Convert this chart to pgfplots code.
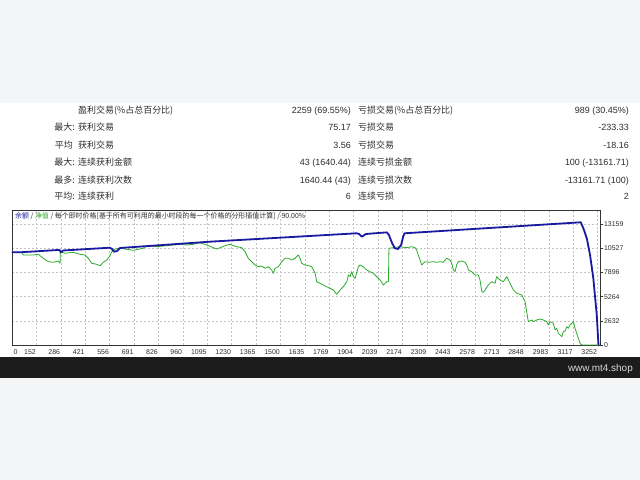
\documentclass[border=0pt]{standalone}
\usepackage{pgfplots}
\pgfplotsset{compat=1.18}
\usepackage{fontspec}
\setmainfont{Liberation Sans}
\newfontfamily\cjk{Noto Sans CJK SC}
\definecolor{bggray}{RGB}{244,245,247}
\definecolor{barblack}{RGB}{28,28,28}
\definecolor{txt}{RGB}{45,45,45}
\definecolor{bal}{RGB}{26,26,160}
\definecolor{eq}{RGB}{44,170,44}
\definecolor{gridc}{RGB}{195,195,195}
\newcommand{\statrow}[6]{%
  \node[anchor=base east,inner sep=0pt,text=txt,font=\fontsize{9}{11}\selectfont] at (75,#1-3.3) {\cjk #2};
  \node[anchor=base west,inner sep=0pt,text=txt,font=\fontsize{9}{11}\selectfont] at (78,#1-3.3) {\cjk #3};
  \node[anchor=base east,inner sep=0pt,text=txt,font=\fontsize{9}{11}\selectfont] at (351,#1-3.3) {#4};
  \node[anchor=base west,inner sep=0pt,text=txt,font=\fontsize{9}{11}\selectfont] at (358,#1-3.3) {\cjk #5};
  \node[anchor=base east,inner sep=0pt,text=txt,font=\fontsize{9}{11}\selectfont] at (629,#1-3.3) {#6};
}
\begin{document}
\begin{tikzpicture}[x=1bp,y=1bp]
\fill[bggray] (0,0) rectangle (640,480);
\fill[white] (0,123) rectangle (640,377);
\fill[barblack] (0,102) rectangle (640,123);
\node[anchor=base east,inner sep=0pt,text=white!85!black,font=\fontsize{10}{12}\selectfont] at (633,108.8) {www.mt4.shop};

\statrow{370}{}{盈利交易(\%占总百分比)}{2259 (69.55\%)}{亏损交易(\%占总百分比)}{989 (30.45\%)}
\statrow{352.3}{最大:}{获利交易}{75.17}{亏损交易}{-233.33}
\node[anchor=base east,inner sep=0pt,text=txt,font=\fontsize{9}{11}\selectfont] at (73,335-3.3) {\cjk 平均};
\statrow{335}{}{获利交易}{3.56}{亏损交易}{-18.16}
\statrow{317.3}{最大:}{连续获利金额}{43 (1640.44)}{连续亏损金额}{100 (-13161.71)}
\statrow{300}{最多:}{连续获利次数}{1640.44 (43)}{连续亏损次数}{-13161.71 (100)}
\statrow{283.3}{平均:}{连续获利}{6}{连续亏损}{2}

\begin{axis}[
  at={(12bp,134.7bp)}, anchor=south west,
  scale only axis, width=588bp, height=135.3bp,
  xmin=52.5, xmax=3301, ymin=0, ymax=14653,
  scaled y ticks=false, scaled x ticks=false,
  axis line style={draw=black!80, line width=0.6bp},
  xtick={188,322,457,592,727,862,996,1131,1266,1401,1536,1671,1805,1940,2075,2210,2345,2479,2614,2749,2884,3019,3153,3288},
  xticklabels={152,286,421,556,691,826,960,1095,1230,1365,1500,1635,1769,1904,2039,2174,2309,2443,2578,2713,2848,2983,3117,3252},
  xtick style={draw=none},
  xticklabel style={anchor=north east, inner sep=0pt, yshift=-1.5bp, xshift=-0.5bp},
  extra x ticks={52.5}, extra x tick labels={0},
  extra x tick style={grid=none, xticklabel style={anchor=north west, xshift=2bp}},
  ytick={0,2632,5264,7896,10527,13159},
  yticklabels={0,2632,5264,7896,10527,13159},
  ytick pos=right, yticklabel pos=right, tick align=outside, major tick length=3bp,
  ytick style={draw=black!80, line width=0.5bp},
  yticklabel style={anchor=west, inner sep=0pt, xshift=0.8bp},
  tick label style={font=\fontsize{7}{8}\selectfont, text=txt},
  grid=major, major grid style={gridc, dash pattern=on 2bp off 2bp, line width=0.5bp},
]
\addplot[eq, line width=0.8bp, line join=round] coordinates {
(52,10072)(106,10072)(115,9779)(169,9779)(198,9855)(225,9422)(253,9054)(281,8989)(308,9130)(318,8881)(320,10137)(345,9964)(391,10072)(428,9855)(456,9779)(474,9422)(493,8881)(520,8772)(539,8621)(557,8989)(576,9238)(594,9704)(603,10137)(622,10429)(649,10505)(723,10289)(778,10505)(797,10787)(852,10678)(907,10787)(944,10862)(981,10938)(1018,10862)(1054,10938)(1091,11112)(1128,10862)(1165,10570)(1183,10429)(1202,10570)(1229,10787)(1257,10938)(1275,10787)(1294,10678)(1322,10570)(1340,10137)(1358,9422)(1377,9054)(1395,8696)(1413,8512)(1432,8588)(1450,8339)(1469,8512)(1487,8155)(1496,7798)(1506,8339)(1524,8512)(1543,9054)(1561,9422)(1579,9422)(1598,9238)(1616,9422)(1634,9779)(1644,9422)(1653,8881)(1671,8696)(1690,8621)(1708,8512)(1727,7798)(1736,6888)(1754,6715)(1772,6530)(1791,6346)(1809,6173)(1828,5989)(1846,5523)(1865,5989)(1883,6346)(1902,6888)(1911,7613)(1920,7429)(1929,7971)(1938,7429)(1948,7256)(1966,8512)(1975,8696)(1993,8512)(2012,8155)(2030,7971)(2049,7798)(2067,7429)(2086,7072)(2104,6530)(2123,6888)(2132,6888)(2135,10505)(2159,10570)(2196,10678)(2233,10570)(2261,10678)(2279,10570)(2288,10321)(2297,9779)(2307,9238)(2316,8696)(2325,8881)(2334,9054)(2353,8989)(2380,9054)(2399,8989)(2417,9054)(2435,8989)(2454,9422)(2472,9238)(2482,8881)(2491,8155)(2500,7971)(2509,8696)(2518,9054)(2537,9130)(2555,8989)(2565,8696)(2574,8155)(2592,7971)(2611,7613)(2629,7613)(2638,7072)(2648,5805)(2656,5740)(2666,5989)(2684,6530)(2703,6888)(2721,6715)(2730,7429)(2749,7072)(2767,6888)(2786,7429)(2804,6715)(2822,5989)(2841,5632)(2869,5447)(2887,4722)(2896,3639)(2905,2556)(2924,2740)(2933,2556)(2951,2740)(2970,2848)(2988,2740)(3007,2556)(3016,2198)(3025,2556)(3043,2383)(3053,1657)(3062,1841)(3071,1300)(3090,931)(3098,1473)(3108,1549)(3117,2014)(3126,1841)(3135,2198)(3145,2383)(3154,2556)(3163,1841)(3172,1300)(3181,758)(3191,217)(3200,30)(3283,30)(3290,0)
};
\addplot[bal, line width=1.8bp, line join=round] coordinates {
(52,10072)(97,10072)(307,10321)(315,10321)(323,10072)(334,10267)(594,10570)(605,10429)(616,10137)(633,10213)(649,10537)(1146,11220)(1957,12130)(1970,12054)(1986,11761)(2008,12054)(2123,12230)(2135,11945)(2152,11079)(2168,10505)(2185,10429)(2202,10862)(2213,11729)(2221,12130)(3195,13321)(3209,12671)(3228,11588)(3246,9779)(3264,7256)(3283,3281)(3292,217)(3293,0)
};
\end{axis}
\node[anchor=base west,inner sep=0pt,font=\fontsize{7}{8}\selectfont] at (15,261.5) {\cjk\textcolor{bal}{余额} \textcolor{txt}{/} \textcolor{eq}{净值} \textcolor{txt}{/ 每个即时价格[基于所有可利用的最小时段的每一个价格的分形插值计算] / 90.00\%}};
\end{tikzpicture}
\end{document}
